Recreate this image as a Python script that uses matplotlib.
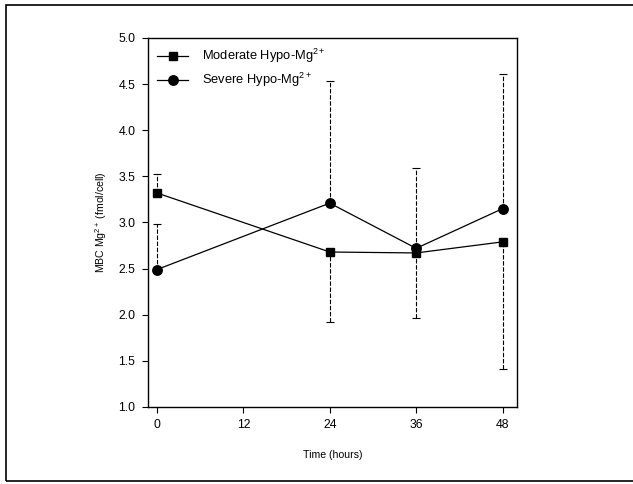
import matplotlib
matplotlib.use("Agg")
import matplotlib.pyplot as plt
from matplotlib.patches import Rectangle

plt.rcParams['font.family'] = ['Liberation Sans', 'DejaVu Sans']
plt.rcParams['mathtext.fontset'] = 'custom'
plt.rcParams['mathtext.rm'] = 'Liberation Sans'
plt.rcParams['mathtext.it'] = 'Liberation Sans:italic'

hours = [0, 24, 36, 48]

moderate = [3.32, 2.68, 2.67, 2.79]
moderate_lo = [0.0, 0.76, 0.70, 1.38]
moderate_hi = [0.21, 0.0, 0.0, 0.0]

severe = [2.49, 3.21, 2.72, 3.15]
severe_lo = [0.0, 0.0, 0.0, 0.0]
severe_hi = [0.49, 1.32, 0.87, 1.46]

x_ticks = [0, 12, 24, 36, 48]
y_ticks = [1.0, 1.5, 2.0, 2.5, 3.0, 3.5, 4.0, 4.5, 5.0]

fig = plt.figure(figsize=(6.33, 4.84), dpi=100)
ax = fig.add_axes([0.2338, 0.1591, 0.5829, 0.7624])

# outer frame around the figure (cut off on the right like the scan)
fig.patches.append(Rectangle((6 / 633, 3 / 484), 1.0, 476 / 484, transform=fig.transFigure,
                             fill=False, edgecolor='black', linewidth=1.2))

# error bars first, lines + markers on top
for vals, lo, hi in ((moderate, moderate_lo, moderate_hi), (severe, severe_lo, severe_hi)):
    eb = ax.errorbar(hours, vals, yerr=[lo, hi], fmt='none', ecolor='black',
                     elinewidth=0.8, capsize=3, capthick=0.8)
    for lc in eb[2]:
        lc.set_linestyle((0, (4, 1.5)))

ax.plot(hours, moderate, color='black', marker='s', markersize=6.3, linewidth=0.9,
        label='Moderate Hypo-Mg$^{2+}$')
ax.plot(hours, severe, color='black', marker='o', markersize=6.8, linewidth=0.9,
        label='Severe Hypo-Mg$^{2+}$')

ax.set_xlim(-1.25, 50)
ax.set_ylim(1.0, 5.0)
ax.set_xticks(x_ticks)
ax.set_yticks(y_ticks)
ax.set_yticklabels([f"{v:.1f}" for v in y_ticks])
ax.tick_params(direction='out', length=4, width=0.8, labelsize=8.8, pad=5)
for s in ax.spines.values():
    s.set_linewidth(1.0)

ax.set_xlabel('Time (hours)', fontsize=7.6, labelpad=13)
ax.set_ylabel('MBC Mg$^{2+}$ (fmol/cell)', fontsize=7.6, labelpad=7)

ax.legend(loc='upper left', frameon=False, fontsize=9.3, handlelength=2.4, handletextpad=1.1,
          bbox_to_anchor=(0.0, 1.0), borderaxespad=0.3, labelspacing=0.45)

fig.savefig('out.png', dpi=100)
